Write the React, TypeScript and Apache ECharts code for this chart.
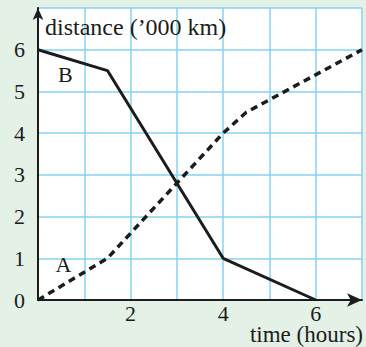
import React, { useEffect, useRef } from "react";
import * as echarts from "echarts";

const seriesAName = "A";
const seriesBName = "B";
const pointsA: [number, number][] = [[0, 0], [1.5, 1], [4, 4], [4.5, 4.5], [7, 6]];
const pointsB: [number, number][] = [[0, 6], [1.5, 5.5], [4, 1], [6, 0]];
const labelPosA: [number, number] = [0.55, 0.86];
const labelPosB: [number, number] = [0.59, 5.41];
const xTickLabels = [2, 4, 6];
const yTickLabels = [0, 1, 2, 3, 4, 5, 6];
const xAxisTitle = "time (hours)";
const yAxisTitle = "distance (\u2019000 km)";

const FONT = "Liberation Serif, Times New Roman, serif";
const INK = "#1c1c1c";

export default function App() {
  const ref = useRef<HTMLDivElement>(null);
  useEffect(() => {
    document.body.style.margin = "0";
    const chart = echarts.init(ref.current!, null, { renderer: "svg" });
    const mark = (name: string, pos: [number, number]) => ({
      symbol: "circle",
      symbolSize: 0,
      data: [{ coord: pos, value: name }],
      label: {
        show: true,
        position: "inside",
        formatter: name,
        color: INK,
        fontFamily: FONT,
        fontSize: 22,
      },
    });
    chart.setOption({
      animation: false,
      backgroundColor: "#e3f1e6",
      textStyle: { fontFamily: FONT },
      grid: {
        left: 38,
        top: 8,
        width: 324,
        height: 292,
        containLabel: false,
        outerBoundsMode: "none",
        show: true,
        backgroundColor: "#ffffff",
        borderWidth: 0,
      },
      graphic: [
        {
          type: "text",
          right: 3,
          top: 323,
          style: {
            text: xAxisTitle,
            fill: INK,
            fontFamily: FONT,
            fontSize: 23,
            lineHeight: 22,
          },
        },
      ],
      xAxis: {
        type: "value",
        min: 0,
        max: 7,
        interval: 1,
        axisLine: {
          lineStyle: { color: INK, width: 2 },
          symbol: ["none", "arrow"],
          symbolSize: [10, 15],
        },
        axisTick: { show: false },
        axisLabel: {
          margin: 3,
          fontSize: 22,
          lineHeight: 20,
          color: INK,
          fontFamily: FONT,
          formatter: (v: number) => (xTickLabels.includes(v) ? String(v) : ""),
        },
        splitLine: { show: true, lineStyle: { color: "#86d3f0", width: 1.5 } },
      },
      yAxis: {
        type: "value",
        min: 0,
        max: 7,
        interval: 1,
        name: yAxisTitle,
        nameLocation: "end",
        nameGap: -19,
        nameTextStyle: {
          align: "left",
          verticalAlign: "middle",
          padding: [0, 0, 0, 7],
          fontSize: 24,
          color: INK,
          fontFamily: FONT,
        },
        axisLine: {
          lineStyle: { color: INK, width: 2 },
          symbol: ["none", "arrow"],
          symbolSize: [8, 12],
        },
        axisTick: { show: false },
        axisLabel: {
          margin: 13,
          fontSize: 22,
          color: INK,
          fontFamily: FONT,
          formatter: (v: number) => (yTickLabels.includes(v) ? String(v) : ""),
        },
        splitLine: { show: true, lineStyle: { color: "#86d3f0", width: 1.5 } },
      },
      series: [
        {
          name: seriesAName,
          type: "line",
          data: pointsA,
          symbol: "none",
          lineStyle: { color: INK, width: 3.5, type: [7, 5] },
          markPoint: mark(seriesAName, labelPosA),
        },
        {
          name: seriesBName,
          type: "line",
          data: pointsB,
          symbol: "none",
          lineStyle: { color: INK, width: 3 },
          markPoint: mark(seriesBName, labelPosB),
        },
      ],
    });
    return () => chart.dispose();
  }, []);
  return <div ref={ref} style={{ width: 366, height: 347 }} />;
}
